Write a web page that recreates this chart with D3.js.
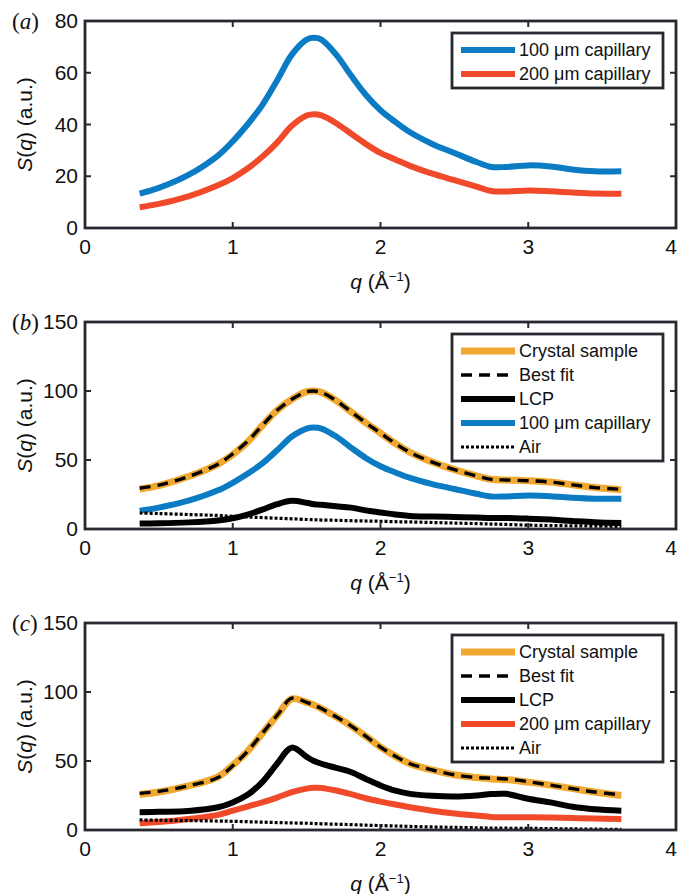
<!DOCTYPE html>
<html>
<head>
<meta charset="utf-8">
<script src="https://cdn.jsdelivr.net/npm/d3@7"></script>
<style>
  body { margin: 0; background: #fff; }
  svg text { font-family: "Liberation Sans", Arial, sans-serif; fill: #111; }
</style>
</head>
<body>
<svg id="chart" width="680" height="894"></svg>
<script>
// q grid shared by all the curves (Å^-1)
const qGrid = [0.37, 0.5, 0.7, 0.9, 1.0, 1.1, 1.2, 1.3, 1.4, 1.5, 1.55, 1.6, 1.7, 1.8, 1.9,
               2.0, 2.1, 2.2, 2.35, 2.5, 2.65, 2.75, 2.85, 3.0, 3.15, 3.3, 3.45, 3.63];

// panel (a)
const cap100 = [13.3, 15.5, 20.5, 28, 33.5, 40, 47.5, 57, 67, 72.8, 73.5, 72.8, 67, 59, 51.5,
                45.5, 41, 37, 32.5, 29, 25.5, 23.6, 23.6, 24.2, 23.8, 22.6, 21.9, 21.9];
const cap200 = [8, 9.3, 12.2, 16.5, 19.3, 23, 27.5, 33, 39.5, 43.5, 44, 43.5, 40.5, 36.5, 32.5,
                29, 26.5, 24, 21, 18.5, 16, 14.3, 14.1, 14.5, 14.2, 13.7, 13.3, 13.2];

// panel (b)
const crystalB = [29, 31.5, 38, 47, 54, 63, 75, 86, 94, 99.5, 100, 99, 93, 85, 77,
                  69.5, 62, 55.5, 48.5, 43, 38.5, 36, 35.5, 35, 34, 32, 30, 28.5];
const fitB     = [29.5, 31.8, 38, 47, 54.5, 63.5, 75, 86, 94, 99.5, 100, 99, 93, 85, 77,
                  69.5, 62, 55.5, 48.5, 43, 38.5, 36, 35.5, 35, 34, 32, 30, 28.8];
const lcpB     = [3.9, 4.1, 4.8, 6.2, 7.8, 10.5, 14, 18, 20.5, 19, 18, 17.5, 16.5, 15.5, 13.5,
                  12, 10.5, 9.5, 9, 8.7, 8.3, 8, 8, 7.5, 6.8, 5.8, 4.9, 4.3];
const airB     = [11.6, 11.2, 10.5, 9.8, 9.2, 8.7, 8.3, 7.8, 7.4, 6.9, 6.7, 6.5, 6.3, 6.0, 5.8,
                  5.6, 5.3, 5.1, 4.7, 4.3, 3.9, 3.6, 3.3, 2.8, 2.5, 2.3, 2.1, 1.9];

// panel (c)
const crystalC = [25.7, 27.5, 32, 38.5, 47, 57, 70, 83, 95, 92.5, 90.5, 88, 82, 75.5, 68,
                  60, 53.5, 48, 43.5, 40, 38, 37, 36.5, 34.7, 32.5, 30, 27.5, 25];
const fitC     = [26.5, 28, 32, 38, 46.5, 57, 70, 83, 95.5, 92.5, 90.5, 88, 82, 75.5, 68,
                  60, 53.5, 48, 43.5, 40, 38, 37.5, 37, 35, 32.5, 30, 27.5, 25.5];
const lcpC     = [12.9, 13.2, 13.8, 16.5, 20, 25.5, 34.7, 48, 59.7, 53, 50, 48, 45, 42, 37,
                  32.3, 28.5, 26.2, 24.8, 24.3, 25, 26, 26.2, 22.6, 20, 16.8, 15, 14];
const cap200C  = [4.9, 5.8, 8, 11, 14, 17, 20, 23.5, 27.4, 30, 30.6, 30.5, 28.6, 26, 23,
                  20.6, 18.5, 16.5, 14, 12, 10.5, 9.5, 9.2, 9.2, 9, 8.7, 8.4, 8];
const airC     = [7.3, 7.1, 6.8, 6.5, 6.3, 6.0, 5.7, 5.4, 5.1, 4.9, 4.7, 4.5, 4.2, 3.9, 3.5,
                  3.2, 2.9, 2.6, 2.2, 1.9, 1.6, 1.4, 1.3, 1.2, 1.0, 0.8, 0.6, 0.5];

const xTicks = [0, 1, 2, 3, 4];
const yTicksA = [0, 20, 40, 60, 80];
const yTicksBC = [0, 50, 100, 150];

const BLUE = "#0b7bc4", RED = "#f04a2a", ORANGE = "#f0a830", BLACK = "#000";

// line styles
const styles = {
  cap100:  { color: BLUE,   width: 6,   dash: null },
  cap200:  { color: RED,    width: 6,   dash: null },
  crystal: { color: ORANGE, width: 7,   dash: null },
  fit:     { color: BLACK,  width: 3.4, dash: "11,7" },
  lcp:     { color: BLACK,  width: 6,   dash: null },
  air:     { color: BLACK,  width: 3.2, dash: "3,2" }
};

const panels = [
  { tag: "a", top: 21, yMax: 80, yTicks: yTicksA,
    series: [
      { name: "100 μm capillary", style: "cap100", values: cap100 },
      { name: "200 μm capillary", style: "cap200", values: cap200 }
    ] },
  { tag: "b", top: 322, yMax: 150, yTicks: yTicksBC,
    series: [
      { name: "Crystal sample", style: "crystal", values: crystalB },
      { name: "Best fit", style: "fit", values: fitB },
      { name: "LCP", style: "lcp", values: lcpB },
      { name: "100 μm capillary", style: "cap100", values: cap100 },
      { name: "Air", style: "air", values: airB }
    ] },
  { tag: "c", top: 623, yMax: 150, yTicks: yTicksBC,
    series: [
      { name: "Crystal sample", style: "crystal", values: crystalC },
      { name: "Best fit", style: "fit", values: fitC },
      { name: "LCP", style: "lcp", values: lcpC },
      { name: "200 μm capillary", style: "cap200", values: cap200C },
      { name: "Air", style: "air", values: airC }
    ] }
];

const svg = d3.select("#chart");
const left = 85, right = 676, plotH = 207;
const frameColor = "#262a30";

const x = d3.scaleLinear().domain([0, 4]).range([left, right]);

panels.forEach(p => {
  const top = p.top, bottom = top + plotH;
  const y = d3.scaleLinear().domain([0, p.yMax]).range([bottom, top]);
  const g = svg.append("g");

  // curves
  const line = d3.line()
    .x((d, i) => x(qGrid[i]))
    .y(d => y(d))
    .curve(d3.curveCatmullRom.alpha(0.5));

  p.series.forEach(s => {
    const st = styles[s.style];
    g.append("path")
      .attr("d", line(s.values))
      .attr("fill", "none")
      .attr("stroke", st.color)
      .attr("stroke-width", st.width)
      .attr("stroke-dasharray", st.dash)
      .attr("stroke-linejoin", "round");
  });

  // box + inner ticks on all four sides
  g.append("rect")
    .attr("x", left).attr("y", top)
    .attr("width", right - left).attr("height", plotH)
    .attr("fill", "none").attr("stroke", frameColor).attr("stroke-width", 2.8);

  const tickLen = 6;
  xTicks.forEach(t => {
    g.append("line").attr("x1", x(t)).attr("x2", x(t))
      .attr("y1", bottom).attr("y2", bottom - tickLen)
      .attr("stroke", frameColor).attr("stroke-width", 2);
    g.append("line").attr("x1", x(t)).attr("x2", x(t))
      .attr("y1", top).attr("y2", top + tickLen)
      .attr("stroke", frameColor).attr("stroke-width", 2);
    g.append("text")
      .attr("x", Math.min(x(t), 671)).attr("y", bottom + 26)
      .attr("text-anchor", "middle")
      .attr("font-size", 21)
      .text(t);
  });

  p.yTicks.forEach(t => {
    g.append("line").attr("x1", left).attr("x2", left + tickLen)
      .attr("y1", y(t)).attr("y2", y(t))
      .attr("stroke", frameColor).attr("stroke-width", 2);
    g.append("line").attr("x1", right).attr("x2", right - tickLen)
      .attr("y1", y(t)).attr("y2", y(t))
      .attr("stroke", frameColor).attr("stroke-width", 2);
    g.append("text")
      .attr("x", left - 7).attr("y", y(t) + 7)
      .attr("text-anchor", "end")
      .attr("font-size", 21)
      .text(t);
  });

  // axis labels
  const xl = g.append("text")
    .attr("x", x(2)).attr("y", bottom + 61)
    .attr("text-anchor", "middle")
    .attr("font-size", 21);
  xl.append("tspan").attr("font-style", "italic").text("q");
  xl.append("tspan").text(" (Å");
  xl.append("tspan").attr("font-size", 13).attr("dy", -8).text("−1");
  xl.append("tspan").attr("dy", 8).text(")");

  const yl = g.append("text")
    .attr("transform", `translate(32,${(top + bottom) / 2}) rotate(-90)`)
    .attr("text-anchor", "middle")
    .attr("font-size", 21);
  yl.append("tspan").attr("font-style", "italic").text("S");
  yl.append("tspan").text("(");
  yl.append("tspan").attr("font-style", "italic").text("q");
  yl.append("tspan").text(") (a.u.)");

  // panel tag
  const tg = g.append("text")
    .attr("x", 12).attr("y", top + 8)
    .attr("font-size", 23)
    .style("font-family", "'Liberation Serif', 'Times New Roman', serif");
  tg.append("tspan").text("(");
  tg.append("tspan").attr("font-style", "italic").text(p.tag);
  tg.append("tspan").text(")");

  // legend
  const lx = 452, lw = 211, ly = top + 12, rowH = 24;
  const n = p.series.length;
  g.append("rect")
    .attr("x", lx).attr("y", ly)
    .attr("width", lw).attr("height", rowH * n + 7)
    .attr("fill", "#fff").attr("stroke", frameColor).attr("stroke-width", 2.8);

  p.series.forEach((s, i) => {
    const st = styles[s.style];
    const ry = ly + 17 + rowH * i;
    g.append("line")
      .attr("x1", lx + 9).attr("x2", lx + 63)
      .attr("y1", ry).attr("y2", ry)
      .attr("stroke", st.color)
      .attr("stroke-width", st.width)
      .attr("stroke-dasharray", st.dash);
    g.append("text")
      .attr("x", lx + 67).attr("y", ry + 6)
      .attr("font-size", 18)
      .text(s.name);
  });
});
</script>
</body>
</html>
